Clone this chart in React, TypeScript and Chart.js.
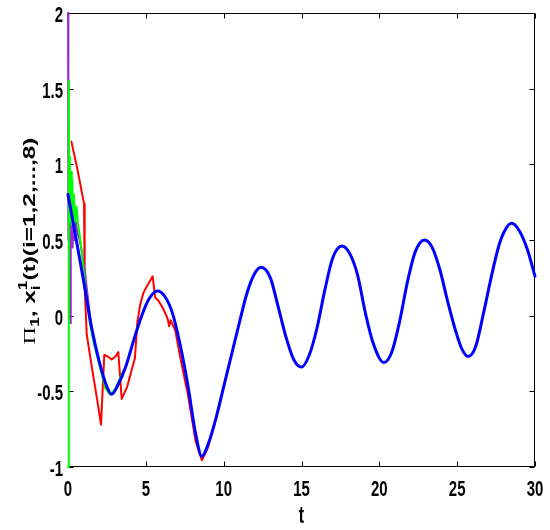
import React, { useEffect, useRef } from "react";
import { Chart, registerables } from "chart.js";

Chart.register(...registerables);

// ---- data ----
const blueT = [0, 0.5, 1.0, 1.5, 2.0, 2.5, 2.8, 3.2, 3.7, 4.2, 4.7, 5.2, 5.74, 6.2, 6.7, 7.2, 7.7, 8.2, 8.6, 9.0, 9.5, 10.0, 10.5, 11.0, 11.5, 12.0, 12.4, 13.0, 13.5, 14.0, 14.5, 15.0, 15.5, 16.0, 16.5, 17.0, 17.6, 18.1, 18.6, 19.1, 19.6, 20.3, 20.8, 21.3, 21.8, 22.3, 22.9, 23.4, 23.9, 24.4, 24.9, 25.3, 25.7, 26.2, 26.7, 27.2, 27.7, 28.1, 28.5, 29.0, 29.5, 30.0];
const blueY = [0.80, 0.52, 0.23, -0.07, -0.30, -0.47, -0.52, -0.46, -0.34, -0.17, -0.01, 0.11, 0.163, 0.13, 0.02, -0.19, -0.46, -0.78, -0.93, -0.85, -0.68, -0.47, -0.26, -0.05, 0.15, 0.28, 0.32, 0.25, 0.06, -0.14, -0.29, -0.34, -0.26, -0.08, 0.17, 0.38, 0.46, 0.41, 0.27, 0.02, -0.18, -0.31, -0.24, -0.04, 0.22, 0.42, 0.50, 0.45, 0.30, 0.09, -0.10, -0.22, -0.27, -0.20, 0.02, 0.26, 0.47, 0.57, 0.61, 0.56, 0.44, 0.26];

const redT = [0.22, 0.6, 1.03, 1.07, 1.2, 1.5, 1.85, 2.12, 2.33, 2.55, 2.8, 3.05, 3.23, 3.45, 3.8, 4.3, 4.45, 4.63, 4.84, 5.1, 5.44, 5.6, 5.8, 6.1, 6.4, 6.5, 6.6, 6.9, 7.2, 7.7, 8.2, 8.6, 9.0, 9.5];
const redY = [1.15, 0.97, 0.74, 0.2, -0.12, -0.32, -0.54, -0.72, -0.26, -0.27, -0.29, -0.27, -0.24, -0.55, -0.47, -0.28, -0.05, 0.07, 0.15, 0.2, 0.26, 0.12, 0.10, 0.05, -0.02, -0.07, -0.03, -0.1, -0.27, -0.52, -0.83, -0.955, -0.87, -0.68];

const greenT = [0, 0.05, 0.08, 0.12, 0.16, 0.2, 0.24, 0.28, 0.33, 0.38, 0.45, 0.55, 0.65, 0.8, 1.0, 1.2, 1.4, 1.7, 2.0, 2.4, 2.7, 3.0, 3.4];
const greenY = [-1, 1.55, 0.75, 1.05, 0.62, 0.95, 0.6, 0.9, 0.62, 0.8, 0.62, 0.72, 0.6, 0.5, 0.3, 0.12, -0.05, -0.2, -0.32, -0.48, -0.52, -0.49, -0.4];

const purpleT = [0, 0.01, 0.04, 0.1, 0.14, 0.18, 0.22, 0.26, 0.3, 0.36, 0.42, 0.5, 0.6, 0.75, 0.9, 1.1, 1.3];
const purpleY = [2, 1.55, 0.5, 0.75, -0.05, 0.6, 0.45, 0.68, 0.45, 0.66, 0.5, 0.62, 0.55, 0.5, 0.42, 0.28, 0.1];

const xTicks = [0, 5, 10, 15, 20, 25, 30];
const xTickLabels = ["0", "5", "10", "15", "20", "25", "30"];
const yTicks = [-1, -0.5, 0, 0.5, 1, 1.5, 2];
const yTickLabels = ["-1", "-0.5", "0", "0.5", "1", "1.5", "2"];
const xTitle = "t";

// ---- helpers ----
function pts(ts: number[], ys: number[]) {
  return ts.map((t, i) => ({ x: t, y: ys[i] }));
}
// continue a series along the (overlapping) blue trajectory up to `until`
function withTail(ts: number[], ys: number[], after: number, until: number) {
  const p = pts(ts, ys);
  blueT.forEach((t, i) => {
    if (t > after && t <= until) p.push({ x: t, y: blueY[i] });
  });
  return p;
}

const SANS = '"Liberation Sans", Arial, sans-serif';
const STRETCH = 1.45;

const framePlugin = {
  id: "matlabFrame",
  beforeDatasetsDraw(chart: any) {
    const { ctx, chartArea: a, scales } = chart;
    const xs = scales.x;
    const ys = scales.y;
    ctx.save();
    ctx.strokeStyle = "#000";
    ctx.lineWidth = 1;
    const L = Math.round(a.left) + 0.5;
    const R = Math.round(a.right) - 0.5;
    const T = Math.round(a.top) + 0.5;
    const B = Math.round(a.bottom) - 0.5;
    ctx.beginPath();
    ctx.rect(L, T, R - L, B - T);
    ctx.stroke();
    const tl = 5;
    ctx.beginPath();
    xTicks.forEach((v) => {
      const px = Math.round(xs.getPixelForValue(v)) + 0.5;
      ctx.moveTo(px, B);
      ctx.lineTo(px, B - tl);
      ctx.moveTo(px, T);
      ctx.lineTo(px, T + tl);
    });
    yTicks.forEach((v) => {
      const py = Math.round(ys.getPixelForValue(v)) + 0.5;
      ctx.moveTo(L, py);
      ctx.lineTo(L + tl, py);
      ctx.moveTo(R, py);
      ctx.lineTo(R - tl, py);
    });
    ctx.stroke();
    ctx.restore();
  },
  afterDraw(chart: any) {
    const { ctx, chartArea: a, scales } = chart;
    const xs = scales.x;
    const ys = scales.y;
    ctx.save();
    // tick labels
    ctx.fillStyle = "#000";
    ctx.font = `bold 15px ${SANS}`;
    ctx.textBaseline = "alphabetic";
    ctx.textAlign = "center";
    xTicks.forEach((v, i) => {
      const px = xs.getPixelForValue(v);
      ctx.save();
      ctx.translate(px, a.bottom + 29);
      ctx.scale(1, STRETCH);
      ctx.fillText(xTickLabels[i], 0, 0);
      ctx.restore();
    });
    ctx.textAlign = "right";
    yTicks.forEach((v, i) => {
      const py = ys.getPixelForValue(v);
      ctx.save();
      ctx.translate(a.left - 5, py + 9);
      ctx.scale(1, STRETCH);
      ctx.fillText(yTickLabels[i], 0, 0);
      ctx.restore();
    });

    // x title
    ctx.textAlign = "center";
    ctx.font = `bold 16px ${SANS}`;
    ctx.save();
    ctx.translate((a.left + a.right) / 2, a.bottom + 56);
    ctx.scale(1, STRETCH);
    ctx.fillText(xTitle, 0, 0);
    ctx.restore();

    // y title with sub/superscripts
    const F = `bold 17px ${SANS}`;
    const FS = `bold 12px ${SANS}`;
    const FP = `17px "Liberation Serif", "DejaVu Serif", serif`;
    type Seg = { parts: { text: string; font: string; dy: number }[] };
    const segs: Seg[] = [
      { parts: [{ text: "\u03A0", font: FP, dy: 0 }] },
      { parts: [{ text: "1", font: FS, dy: 4 }] },
      { parts: [{ text: ", ", font: F, dy: 0 }] },
      { parts: [{ text: "x", font: F, dy: 0 }] },
      { parts: [{ text: "1", font: FS, dy: -8 }, { text: "i", font: FS, dy: 5 }] },
      { parts: [{ text: "(t)(i=1,2,...,8)", font: F, dy: 0 }] },
    ];
    const widths = segs.map((s) =>
      Math.max(...s.parts.map((p) => { ctx.font = p.font; return ctx.measureText(p.text).width; }))
    );
    const total = widths.reduce((s, w) => s + w, 0);
    const targetLen = 207;
    const k = targetLen / total;
    const centerY = 241;
    ctx.save();
    ctx.translate(35, centerY + targetLen / 2);
    ctx.rotate(-Math.PI / 2);
    ctx.scale(k, 1);
    ctx.textAlign = "left";
    let x = 0;
    segs.forEach((s, i) => {
      s.parts.forEach((p) => {
        ctx.font = p.font;
        ctx.fillText(p.text, x, p.dy);
      });
      x += widths[i];
    });
    ctx.restore();
    ctx.restore();
  },
};

const common = {
  showLine: true,
  pointRadius: 0,
  clip: 3,
  borderJoinStyle: "round",
  borderCapStyle: "round",
};

export default function App() {
  const ref = useRef<HTMLCanvasElement | null>(null);
  useEffect(() => {
    if (!ref.current) return;
    const chart = new Chart(ref.current, {
      type: "scatter",
      data: {
        datasets: [
          {
            ...common,
            label: "blue",
            data: pts(blueT, blueY),
            borderColor: "#0000ff",
            borderWidth: 3,
            cubicInterpolationMode: "monotone",
            order: 0,
          },
          {
            ...common,
            label: "green",
            data: withTail(greenT, greenY, 3.5, 3.7),
            borderColor: "#00ff00",
            borderWidth: 2,
            tension: 0,
            order: 1,
          },
          {
            ...common,
            label: "purple",
            data: withTail(purpleT, purpleY, 1.4, 1.5),
            borderColor: "#9933cc",
            borderWidth: 2,
            tension: 0,
            order: 2,
          },
          {
            ...common,
            label: "red",
            data: withTail(redT, redY, 9.6, 10.0),
            borderColor: "#ff0000",
            borderWidth: 2,
            tension: 0,
            order: 3,
          },
        ] as any,
      },
      options: {
        animation: false,
        responsive: false,
        devicePixelRatio: 1,
        layout: { padding: { left: 68, right: 15, top: 13, bottom: 63 } },
        plugins: { legend: { display: false }, tooltip: { enabled: false } },
        scales: {
          x: { type: "linear", min: 0, max: 30, display: false },
          y: { type: "linear", min: -1, max: 2, display: false },
        },
      },
      plugins: [framePlugin],
    });
    return () => chart.destroy();
  }, []);
  return (
    <div style={{ position: "absolute", left: 0, top: 0, width: 550, height: 530, background: "#fff" }}>
      <canvas ref={ref} width={550} height={530} />
    </div>
  );
}
